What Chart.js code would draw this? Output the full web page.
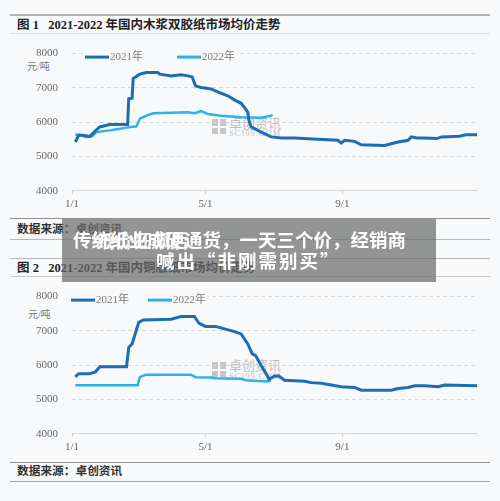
<!DOCTYPE html>
<html>
<head>
<meta charset="utf-8">
<script src="https://cdn.jsdelivr.net/npm/chart.js@4.4.1/dist/chart.umd.min.js"></script>
<style>
html, body { margin: 0; padding: 0; background: #f8f9fb; }
body { width: 500px; height: 501px; position: relative; overflow: hidden;
       font-family: "Liberation Serif", "Noto Sans CJK SC", serif; }
.rule { position: absolute; left: 10px; width: 480px; }
.txt { position: absolute; white-space: nowrap; line-height: 1; }
.title { font-size: 12.5px; font-weight: bold; color: #222; }
.src { font-size: 11.7px; font-weight: bold; color: #333; }
.unit { font-size: 10px; color: #777; }
.wm { position: absolute; color: #bdbdbd; white-space: nowrap; line-height: 1; }
.logo { position: absolute; width: 14px; height: 15px; display: grid;
        grid-template-columns: 6px 6px; grid-gap: 2px; }
.logo span { background: #c6c6c6; }
canvas { position: absolute; left: 0; }
.banner { position: absolute; left: 62px; top: 219px; width: 374px; height: 63px;
          background: rgba(108, 108, 108, 0.72); }
.head { position: absolute; white-space: nowrap; color: #fff; font-weight: bold;
        font-family: "Noto Sans CJK SC", sans-serif; font-size: 18.5px; line-height: 1; }
</style>
</head>
<body>

<div class="rule" style="top:14px;border-top:2px solid #b4b4b4;"></div>
<div class="txt title" style="left:17px;top:19px;">图 1&nbsp;&nbsp;&nbsp;2021-2022 年国内木浆双胶纸市场均价走势</div>
<div class="rule" style="top:33px;border-top:1px solid #dcdcdc;"></div>

<div class="logo" style="left:212px;top:119px;"><span></span><span></span><span></span><span></span></div>
<div class="wm" style="left:229px;top:116px;font-size:13px;font-family:'Noto Sans CJK SC';">卓创资讯</div>
<div class="wm" style="left:229px;top:129px;font-size:8.5px;letter-spacing:1px;">SCI99.COM</div>
<div class="txt unit" style="left:27px;top:62px;">元/吨</div>
<canvas id="chartPaper" width="500" height="179" style="top:33px;"></canvas>

<div class="rule" style="top:218px;border-top:1.5px solid #8f8f8f;"></div>
<div class="txt src" style="left:17px;top:224px;">数据来源：卓创资讯</div>
<div class="rule" style="top:239px;border-top:1px solid #b8b8b8;"></div>
<div class="rule" style="top:258px;border-top:1px solid #b8b8b8;"></div>
<div class="txt title" style="left:17px;top:262px;">图 2&nbsp;&nbsp;&nbsp;2021-2022 年国内铜版纸市场均价走势</div>
<div class="rule" style="top:276px;border-top:1px solid #c8c8c8;"></div>

<div class="logo" style="left:212px;top:362px;"><span></span><span></span><span></span><span></span></div>
<div class="wm" style="left:229px;top:358px;font-size:13px;font-family:'Noto Sans CJK SC';">卓创资讯</div>
<div class="wm" style="left:229px;top:372px;font-size:8.5px;letter-spacing:1px;">SCI99.COM</div>
<div class="txt unit" style="left:28px;top:310px;">元/吨</div>
<canvas id="chartCoated" width="500" height="179" style="top:276px;"></canvas>

<div class="rule" style="top:462px;border-top:1.5px solid #8f8f8f;"></div>
<div class="txt src" style="left:17px;top:466px;">数据来源：卓创资讯</div>
<div class="rule" style="top:481px;border-top:1px solid #a8a8a8;"></div>

<div class="banner"></div>
<div class="head" style="left:73px;top:230px;">传统纸业成硬通货，一天三个价，经销商</div>
<div class="head" style="left:96px;top:231px;opacity:0.85;">纸价狂飙后</div>
<div class="head" style="left:156px;top:251px;letter-spacing:2px;">喊出“非刚需别买”</div>

<script>
// x axis: day of year (0 = 1/1)
const tickDays = [0, 120, 243];
const tickLabels = ['1/1', '5/1', '9/1'];
const yTicks = [4000, 5000, 6000, 7000, 8000];
const seriesNames = ['2021年', '2022年'];

// 图1 木浆双胶纸 (元/吨)
const paperDays2021 = [3, 6, 10, 16, 21, 25, 34, 50, 51, 54, 55, 61, 67, 77, 79, 89, 98, 104, 108, 111,
  116, 125, 132, 140, 146, 152, 155, 158, 159, 161, 170, 179, 188, 200, 221, 239, 242, 245, 254, 260,
  281, 287, 293, 302, 305, 310, 317, 328, 332, 348, 354, 364];
const paperPrice2021 = [5420, 5620, 5620, 5580, 5750, 5860, 5930, 5930, 6680, 6700, 7270, 7400, 7450, 7450, 7400, 7350, 7380, 7350, 7320, 7060,
  7010, 6970, 6870, 6770, 6650, 6550, 6430, 6290, 6050, 5860, 5710, 5570, 5540, 5540, 5500, 5470, 5390, 5470, 5440, 5340,
  5320, 5370, 5420, 5470, 5570, 5540, 5540, 5520, 5570, 5590, 5630, 5630];
const paperDays2022 = [3, 7, 12, 18, 22, 34, 43, 49, 58, 61, 67, 73, 104, 110, 116, 122, 134, 152, 170, 179, 180];
const paperPrice2022 = [5630, 5630, 5570, 5590, 5710, 5760, 5810, 5840, 5880, 6100, 6190, 6260, 6290, 6260, 6320, 6240, 6190, 6140, 6130, 6190, 6220];

// 图2 铜版纸 (元/吨)
const coatedDays2021 = [3, 6, 16, 21, 25, 49, 51, 54, 60, 64, 89, 98, 110, 114, 120, 129, 138, 146, 152, 158,
  162, 165, 170, 176, 177, 182, 186, 191, 209, 215, 224, 233, 242, 254, 260, 287, 293, 302, 308, 317,
  329, 335, 364];
const coatedPrice2021 = [5660, 5750, 5750, 5800, 5950, 5950, 6520, 6620, 7250, 7320, 7340, 7420, 7420, 7230, 7130, 7130, 7050, 6980, 6910, 6620,
  6330, 6280, 5990, 5660, 5590, 5680, 5680, 5560, 5530, 5490, 5470, 5420, 5370, 5350, 5270, 5270, 5320, 5350, 5400, 5400,
  5370, 5420, 5400];
const coatedDays2022 = [3, 59, 61, 66, 107, 111, 125, 129, 152, 156, 176, 179];
const coatedPrice2022 = [5410, 5410, 5650, 5720, 5720, 5650, 5640, 5620, 5600, 5560, 5520, 5560];

const serif = 'Liberation Serif';

// legend drawn as short lines inside the plot, over the top gridline
const lineLegend = {
  id: 'lineLegend',
  afterDraw(chart, args, opts) {
    const { ctx, chartArea } = chart;
    const y = chartArea.top + 3.5;
    ctx.save();
    ctx.fillStyle = '#f8f9fb';
    ctx.fillRect(chartArea.left + opts.offsets[0] - 2, y - 6, opts.offsets[1] + 62 - opts.offsets[0], 12);
    ctx.font = '11px "Liberation Serif", "Noto Sans CJK SC"';
    ctx.textBaseline = 'middle';
    chart.data.datasets.forEach((ds, i) => {
      const x = chartArea.left + opts.offsets[i];
      ctx.strokeStyle = ds.borderColor;
      ctx.lineWidth = 3;
      ctx.beginPath();
      ctx.moveTo(x, y);
      ctx.lineTo(x + 24, y);
      ctx.stroke();
      ctx.fillStyle = '#7a7a7a';
      ctx.fillText(ds.label, x + 25, y + 0.5);
    });
    ctx.restore();
  }
};

function points(days, vals) {
  return days.map((d, i) => ({ x: d, y: vals[i] }));
}

function drawChart(id, d21, v21, d22, v22, legendOffsets) {
  new Chart(document.getElementById(id), {
    type: 'line',
    data: {
      datasets: [
        { label: seriesNames[0], data: points(d21, v21), borderColor: '#1c6db3', borderWidth: 3, pointRadius: 0, tension: 0 },
        { label: seriesNames[1], data: points(d22, v22), borderColor: '#2db2e6', borderWidth: 2.5, pointRadius: 0, tension: 0 }
      ]
    },
    options: {
      responsive: false,
      animation: false,
      layout: { padding: { left: 0, right: 23, top: 6, bottom: 1.3 } },
      plugins: {
        legend: { display: false },
        tooltip: { enabled: false },
        lineLegend: { offsets: legendOffsets }
      },
      scales: {
        x: {
          type: 'linear',
          min: 0,
          max: 364,
          afterBuildTicks: s => { s.ticks = tickDays.map(v => ({ value: v })); },
          afterFit: s => { s.height = 20; },
          ticks: {
            callback: v => tickLabels[tickDays.indexOf(v)],
            font: { family: serif, size: 11 },
            color: '#666',
            padding: 4,
            maxRotation: 0,
            autoSkip: false
          },
          grid: { drawOnChartArea: false, tickLength: 3, tickColor: '#cfcfcf' },
          border: { color: '#d4d4d4' }
        },
        y: {
          min: yTicks[0],
          max: yTicks[yTicks.length - 1],
          afterBuildTicks: s => { s.ticks = yTicks.map(v => ({ value: v })); },
          afterFit: s => { s.width = 72; },
          ticks: { callback: v => String(v), font: { family: serif, size: 11 }, color: '#666', padding: 14 },
          grid: {
            color: c => (c.tick && c.tick.value === yTicks[0]) ? 'rgba(0,0,0,0)' : '#d8d8d8',
            drawTicks: false
          },
          border: { display: false, dash: [4, 3] }
        }
      }
    },
    plugins: [lineLegend]
  });
}

drawChart('chartPaper', paperDays2021, paperPrice2021, paperDays2022, paperPrice2022, [13, 105]);
drawChart('chartCoated', coatedDays2021, coatedPrice2021, coatedDays2022, coatedPrice2022, [-1, 76]);
</script>
</body>
</html>
